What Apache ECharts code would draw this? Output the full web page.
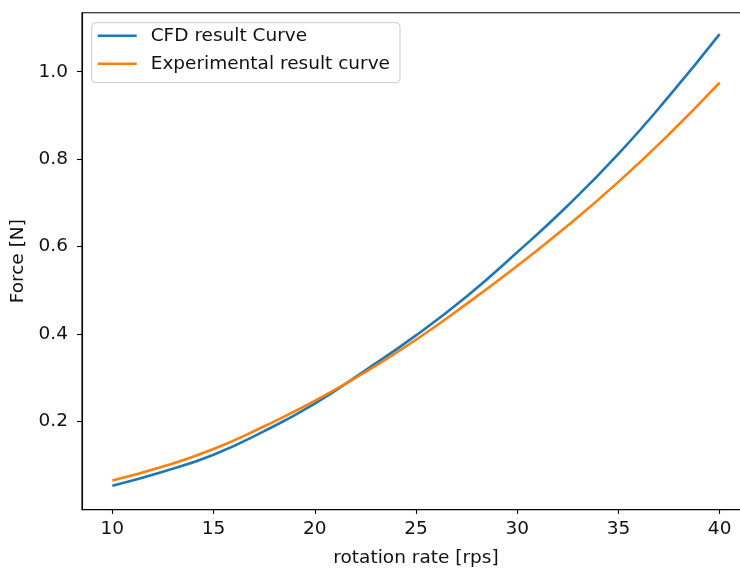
<!DOCTYPE html>
<html>
<head>
<meta charset="utf-8">
<script src="https://cdn.jsdelivr.net/npm/echarts@6/dist/echarts.min.js"></script>
<style>
html,body{margin:0;padding:0;background:#fff;overflow:hidden;}
#chart{width:740px;height:569px;}
</style>
</head>
<body>
<div id="chart"></div>
<script>
var rotationRate = [10, 12.5, 15, 17.5, 20, 22.5, 25, 27.5, 30, 32.5, 35, 37.5, 40];
var cfdForce = [0.053, 0.085, 0.124, 0.178, 0.241, 0.317, 0.397, 0.486, 0.587, 0.694, 0.812, 0.944, 1.086];
var expForce = [0.065, 0.097, 0.137, 0.189, 0.247, 0.313, 0.387, 0.469, 0.556, 0.648, 0.748, 0.857, 0.975];
var xTicks = [10, 15, 20, 25, 30, 35, 40];
var yTicks = [0.2, 0.4, 0.6, 0.8, 1.0];
var seriesNames = ['CFD result Curve', 'Experimental result curve'];

function pairs(xs, ys) { return xs.map(function (x, i) { return [x, ys[i]]; }); }

var FONT = 'DejaVu Sans';
var FS = 18.5;
var TXT = '#111111';
var chart = echarts.init(document.getElementById('chart'), null, {renderer: 'canvas'});
chart.setOption({
  animation: false,
  backgroundColor: '#ffffff',
  grid: {left: 82, top: 12.7, width: 668, height: 497, outerBoundsMode: 'none', containLabel: false,
    show: true, borderColor: '#000', borderWidth: 1.1, backgroundColor: 'transparent'},
  legend: {
    left: 91.7, top: 22.7, orient: 'vertical',
    itemWidth: 39, itemHeight: 20, itemGap: 8,
    icon: 'path://M0,0H39V2.5H0Z',
    padding: [3, 10, 9, 6],
    backgroundColor: 'rgba(255,255,255,0.8)', borderColor: '#cccccc', borderWidth: 1, borderRadius: 4,
    textStyle: {fontFamily: FONT, fontSize: FS, color: TXT, lineHeight: 20, padding: [0, 0, 0, 9]},
    data: seriesNames
  },
  xAxis: {
    type: 'value', min: 8.5, max: 41.5,
    name: 'rotation rate [rps]', nameLocation: 'middle', nameGap: 39,
    nameTextStyle: {fontFamily: FONT, fontSize: FS, color: TXT},
    axisLine: {show: true, lineStyle: {color: '#000', width: 1.1}},
    axisTick: {show: true, inside: false, length: 5, lineStyle: {color: '#000', width: 1.1}, customValues: xTicks},
    axisLabel: {fontFamily: FONT, fontSize: FS, color: TXT, margin: 10, customValues: xTicks},
    splitLine: {show: false}
  },
  yAxis: {
    type: 'value', min: -0.0018, max: 1.135,
    name: 'Force [N]', nameLocation: 'middle', nameGap: 52, nameRotate: 90,
    nameTextStyle: {fontFamily: FONT, fontSize: FS, color: TXT},
    axisLine: {show: true, lineStyle: {color: '#000', width: 1.1}},
    axisTick: {show: true, inside: false, length: 5, lineStyle: {color: '#000', width: 1.1}, customValues: yTicks},
    axisLabel: {fontFamily: FONT, fontSize: FS, color: TXT, margin: 14, customValues: yTicks,
      formatter: function (v) { return v.toFixed(1); }},
    splitLine: {show: false}
  },
  series: [
    {name: seriesNames[0], type: 'line', data: pairs(rotationRate, cfdForce), smooth: true, symbol: 'none',
      lineStyle: {color: '#1f77b4', width: 2.6}, itemStyle: {color: '#1f77b4'}},
    {name: seriesNames[1], type: 'line', data: pairs(rotationRate, expForce), smooth: true, symbol: 'none',
      lineStyle: {color: '#ff7f0e', width: 2.6}, itemStyle: {color: '#ff7f0e'}}
  ]
});
</script>
</body>
</html>
